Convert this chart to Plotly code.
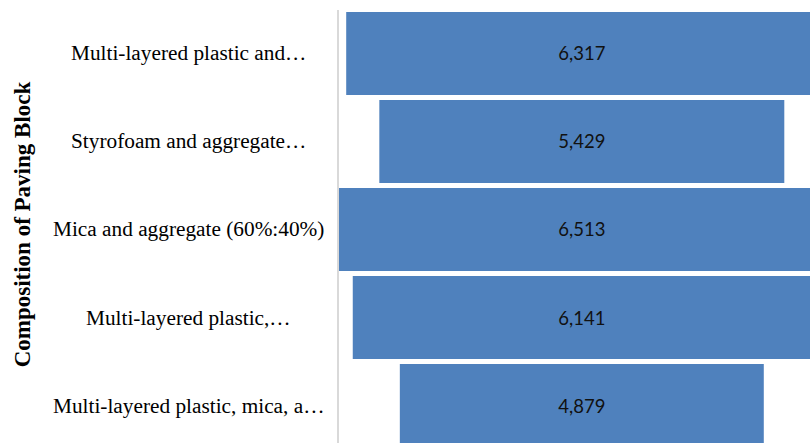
import plotly.graph_objects as go

categories = [
    "Multi-layered plastic and…",
    "Styrofoam and aggregate…",
    "Mica and aggregate (60%:40%)",
    "Multi-layered plastic,…",
    "Multi-layered plastic, mica, a…",
]
values = [6317, 5429, 6513, 6141, 4879]
axis_title = "Composition of Paving Block"

fig = go.Figure(
    go.Funnel(
        y=categories,
        x=values,
        texttemplate="%{x:,}",
        textposition="inside",
        insidetextanchor="middle",
        textfont=dict(family="Lato", size=18.5, color="#111111"),
        marker=dict(color="#4f81bd"),
        connector=dict(visible=False),
        hoverinfo="x+y",
    )
)

annotations = [
    dict(
        x=-0.3198, xref="paper", y=c, yref="y",
        text=c, showarrow=False, xanchor="center", yanchor="middle",
        font=dict(family="Liberation Serif", size=21.3, color="#000000"),
    )
    for c in categories
]
annotations.append(
    dict(
        x=(22 - 339) / 471, xref="paper", y=0.505, yref="paper",
        text="<b>" + axis_title + "</b>", showarrow=False, textangle=-90,
        xanchor="center", yanchor="middle",
        font=dict(family="Liberation Serif", size=23, color="#000000"),
    )
)

fig.update_layout(
    width=810,
    height=443,
    margin=dict(l=339, r=0, t=10, b=0, pad=0),
    paper_bgcolor="white",
    plot_bgcolor="white",
    showlegend=False,
    funnelgap=0.057,
    annotations=annotations,
    xaxis=dict(
        range=[-3255, 3059],
        showticklabels=False, showgrid=False, zeroline=False, showline=False,
    ),
    yaxis=dict(
        range=[4.426, -0.494],
        showticklabels=False, showgrid=False, zeroline=False,
        showline=True, linecolor="#d9d9d9", linewidth=2,
    ),
)

fig.write_html("out.html")
